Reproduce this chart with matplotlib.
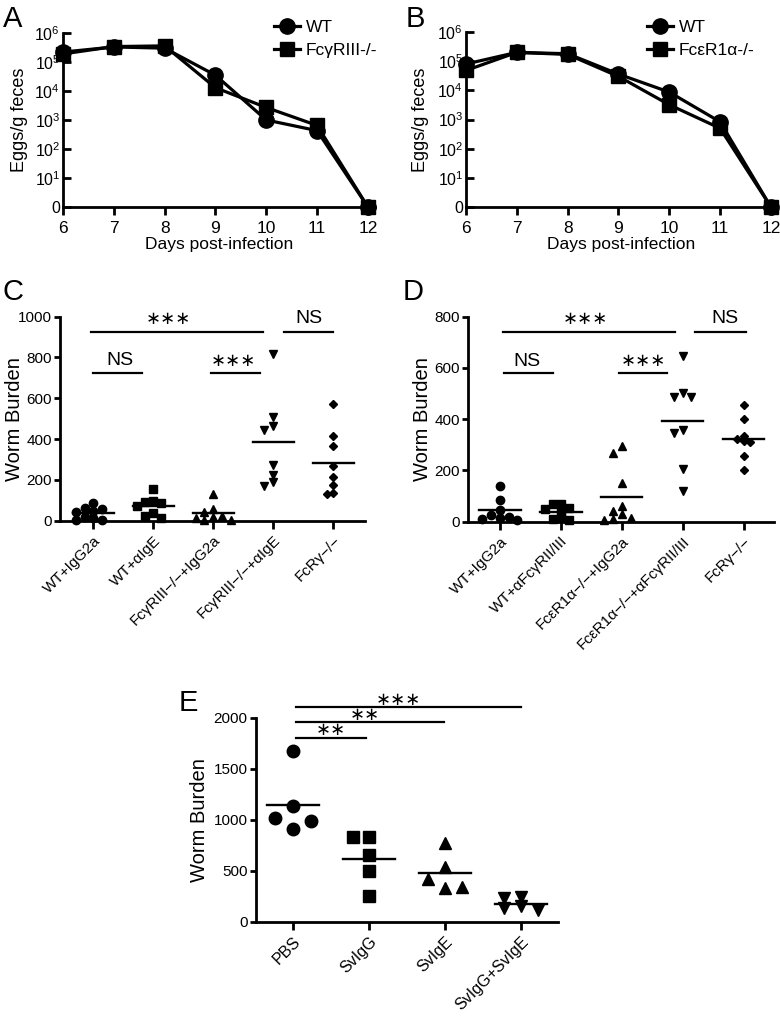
import matplotlib
matplotlib.use("Agg")
import matplotlib.pyplot as plt
import numpy as np

plt.rcParams['font.family'] = ['Liberation Sans', 'DejaVu Sans']
plt.rcParams['mathtext.default'] = 'regular'

W, H = 780, 1018

# panels A / B: eggs per gram feces (0 = none detected)
days = [6, 7, 8, 9, 10, 11, 12]
a_wt = [2.2e5, 3.3e5, 3.0e5, 3.5e4, 1.0e3, 4.3e2, 0]
a_ko = [1.9e5, 3.4e5, 3.6e5, 1.3e4, 2.7e3, 6.5e2, 0]
b_wt = [8.0e4, 2.0e5, 1.8e5, 3.6e4, 8.7e3, 8.3e2, 0]
b_ko = [4.8e4, 2.0e5, 1.7e5, 3.0e4, 3.2e3, 5.0e2, 0]

# panel C: worm burden
c_labels = ['WT+IgG2a', 'WT+\u03b1IgE', 'Fc\u03b3RIII\u2212/\u2212+IgG2a',
            'Fc\u03b3RIII\u2212/\u2212+\u03b1IgE', 'FcR\u03b3\u2212/\u2212']
c_vals = [[85, 62, 57, 50, 45, 20, 12, 5, 3],
          [155, 95, 90, 85, 70, 40, 25, 15],
          [130, 55, 45, 25, 20, 15, 5, 5],
          [818, 508, 466, 446, 274, 226, 188, 168],
          [572, 413, 364, 269, 216, 175, 138, 131]]

# panel D: worm burden
d_labels = ['WT+IgG2a', 'WT+\u03b1Fc\u03b3RII/III', 'Fc\u03b5R1\u03b1\u2212/\u2212+IgG2a',
            'Fc\u03b5R1\u03b1\u2212/\u2212+\u03b1Fc\u03b3RII/III', 'FcR\u03b3\u2212/\u2212']
d_vals = [[140, 85, 45, 25, 20, 15, 12, 8],
          [70, 70, 55, 50, 40, 15, 10, 5],
          [295, 270, 150, 60, 40, 30, 15, 10, 5],
          [648, 504, 488, 488, 358, 345, 206, 121],
          [456, 401, 335, 322, 313, 311, 257, 202]]

# panel E: worm burden
e_labels = ['PBS', 'SvIgG', 'SvIgE', 'SvIgG+SvIgE']
e_vals = [[1673, 1134, 909, 1020, 987],
          [833, 833, 654, 500, 255],
          [775, 540, 415, 327, 343],
          [240, 228, 150, 138, 118]]

markers = ['o', 's', '^', 'v', 'D']

fig = plt.figure(figsize=(W / 100, H / 100), dpi=100)


def box(left, top, right, bottom):
    return [left / W, 1 - bottom / H, (right - left) / W, (bottom - top) / H]


def style(ax, lw=2):
    for s in ['top', 'right']:
        ax.spines[s].set_visible(False)
    for s in ['left', 'bottom']:
        ax.spines[s].set_linewidth(lw)
    ax.tick_params(direction='out', length=5, width=lw)


def egg_panel(rect, xmax, wt, ko, ko_label, letter, letter_xy, leg_xy, ylab_x):
    ax = fig.add_axes(rect)
    style(ax)
    wt_p = np.where(np.array(wt) == 0, 1, wt)
    ko_p = np.where(np.array(ko) == 0, 1, ko)
    ax.plot(days, ko_p, '-s', color='black', lw=2.3, ms=10, clip_on=False, label=ko_label)
    ax.plot(days, wt_p, '-o', color='black', lw=2.3, ms=11, clip_on=False, label='WT')
    ax.set_yscale('log')
    ax.set_ylim(1, 1e6)
    ax.set_xlim(6, xmax)
    ax.set_yticks([1, 1e1, 1e2, 1e3, 1e4, 1e5, 1e6])
    ax.set_yticklabels(['0'] + ['$10^{%d}$' % k for k in range(1, 7)])
    ax.minorticks_off()
    ax.tick_params(axis='y', direction='in', length=6, pad=2, labelsize=11.5)
    ax.tick_params(axis='x', length=6, pad=4, labelsize=12.5)
    ax.set_xticks(days)
    ax.set_xlabel('Days post-infection', fontsize=12.5, labelpad=1)
    ax.set_ylabel('Eggs/g feces', fontsize=13)
    ax.yaxis.set_label_coords(ylab_x, 0.5)
    h, l = ax.get_legend_handles_labels()
    ax.legend(h[::-1], l[::-1], loc='upper left', bbox_to_anchor=(leg_xy[0] / W, 1 - leg_xy[1] / H),
              bbox_transform=fig.transFigure, frameon=False, fontsize=12.5, handlelength=1.5,
              handletextpad=0.35, borderpad=0, borderaxespad=0, labelspacing=0.45)
    fig.text(letter_xy[0] / W, 1 - letter_xy[1] / H, letter, fontsize=21, ha='center', va='center')
    return ax


def swarm(ax, x0, vals, diam_px, step_f, row_f):
    # simple scatter-dot layout: points that share a row go to the nearest free column
    step = diam_px * step_f
    rowh = diam_px * row_f
    placed = []
    xs = []
    for v in vals:
        px0, py = ax.transData.transform((x0, v))
        k = 0
        while True:
            n = (k + 1) // 2
            c = 0 if k == 0 else (-n if k % 2 else n)
            if all(not (qc == c and abs(py - qy) < rowh) for qc, qy in placed):
                placed.append((c, py))
                xs.append(ax.transData.inverted().transform((px0 + c * step, py))[0])
                break
            k += 1
    return xs


def worm_panel(rect, xlim, ylim, yticks, labels, vals, msizes, step_f, row_fs,
               letter, letter_xy, ylab_x):
    ax = fig.add_axes(rect)
    style(ax)
    ax.set_xlim(*xlim)
    ax.set_ylim(*ylim)
    ax.set_yticks(yticks)
    ax.tick_params(axis='y', length=4, pad=2, labelsize=11)
    ax.tick_params(axis='x', length=6, pad=3)
    ax.set_xticks(range(len(labels)))
    ax.set_xticklabels(labels, rotation=45, ha='right', rotation_mode='anchor', fontsize=11)
    ax.set_ylabel('Worm Burden', fontsize=14.5)
    ax.yaxis.set_label_coords(ylab_x, 0.5)
    for i, v in enumerate(vals):
        ms = msizes[i]
        xs = swarm(ax, i, v, ms * 1.39, step_f, row_fs[i])
        ax.plot(xs, v, linestyle='none', marker=markers[i], ms=ms, color='black', clip_on=False)
        ax.plot([i - 0.34, i + 0.34], [np.mean(v)] * 2, color='black', lw=1.7, clip_on=False)
    fig.text(letter_xy[0] / W, 1 - letter_xy[1] / H, letter, fontsize=21, ha='center', va='center')
    return ax


def sig(ax, x1, x2, y, text, tx, ty):
    ax.plot([x1, x2], [y, y], color='black', lw=1.6, clip_on=False)
    star = '\u2217' in text
    ax.text(tx, ty, text, ha='center', va='center', fontsize=13 if star else 14, clip_on=False,
            family=['DejaVu Sans'] if star else None)


egg_panel(box(63, 33, 375, 207), 12.14, a_wt, a_ko, 'Fc\u03b3RIII-/-', 'A', (13, 19), (274, 20), -0.112)
egg_panel(box(466, 32, 776, 207), 12.1, b_wt, b_ko, 'Fc\u03b5R1\u03b1-/-', 'B', (415, 19), (647, 20), -0.119)

axc = worm_panel(box(60, 316.7, 365, 520.7), (-0.555, 4.53), (0, 1000), range(0, 1001, 200),
                 c_labels, c_vals, [6, 5.5, 6, 6, 4.5], 1.05, [0.8] * 5, 'C', (13, 292), -0.118)
sig(axc, -0.03, 2.83, 923, '\u2217\u2217\u2217', 1.25, 990)
sig(axc, 3.18, 4.0, 923, 'NS', 3.6, 990)
sig(axc, 0.0, 0.82, 725, 'NS', 0.45, 785)
sig(axc, 1.97, 2.78, 725, '\u2217\u2217\u2217', 2.33, 785)

axd = worm_panel(box(468.3, 316.7, 774, 521.7), (-0.52, 4.5), (0, 800), range(0, 801, 200),
                 d_labels, d_vals, [6, 5.5, 6, 6, 4.5], 1.05, [0.8] * 5, 'D', (413, 292), -0.119)
sig(axd, 0.05, 2.87, 739, '\u2217\u2217\u2217', 1.4, 792)
sig(axd, 3.21, 4.04, 739, 'NS', 3.7, 792)
sig(axd, 0.07, 0.87, 581, 'NS', 0.45, 627)
sig(axd, 1.95, 2.75, 581, '\u2217\u2217\u2217', 2.35, 627)

axe = worm_panel(box(256, 717.7, 558, 921.7), (-0.49, 3.49), (0, 2000), range(0, 2001, 500),
                 e_labels, e_vals, [9, 8, 8.5, 8.5], 1.45, [1.1, 1.1, 1.1, 0.75],
                 'E', (188, 703), -0.156)
for lab in axe.get_xticklabels():
    lab.set_fontsize(11.5)
sig(axe, 0.04, 3.0, 2102, '\u2217\u2217\u2217', 1.39, 2172)
sig(axe, 0.04, 1.99, 1955, '\u2217\u2217', 0.95, 2025)
sig(axe, 0.04, 0.96, 1798, '\u2217\u2217', 0.5, 1878)

fig.savefig('out.png', dpi=100)
